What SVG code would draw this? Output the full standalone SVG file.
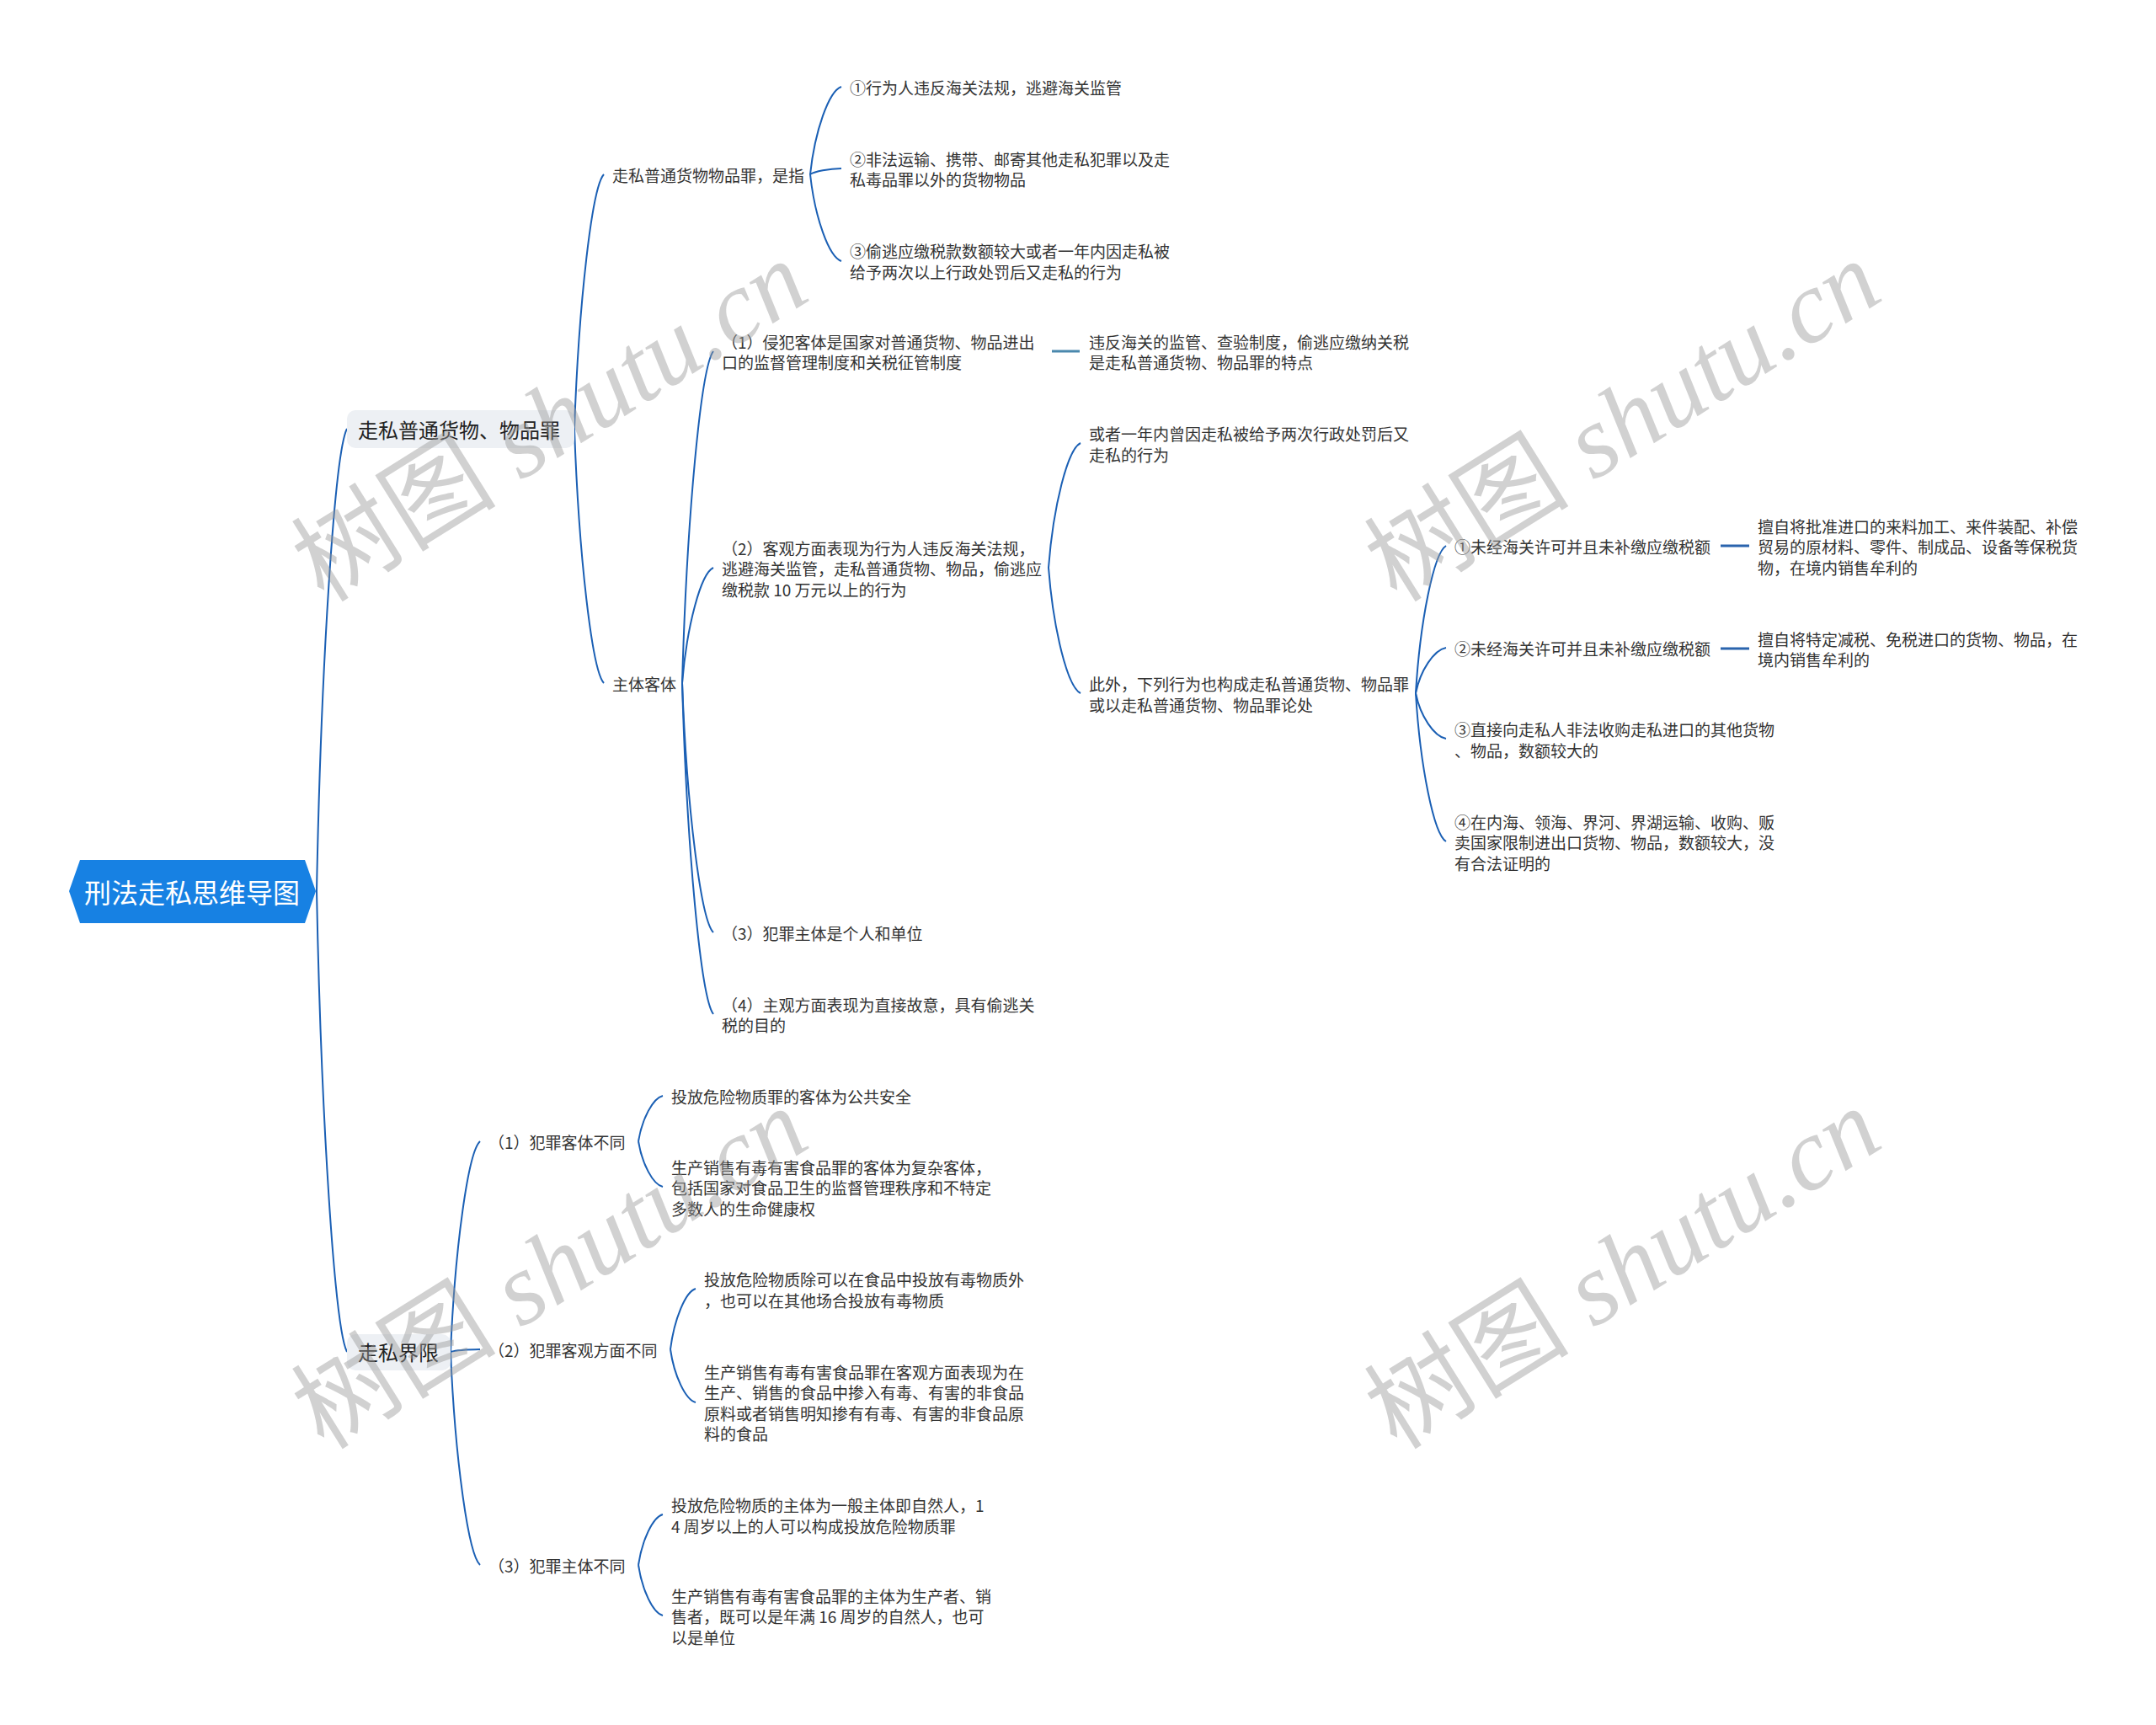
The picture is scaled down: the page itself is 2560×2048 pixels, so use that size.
<svg xmlns="http://www.w3.org/2000/svg" width="2560" height="2048" viewBox="0 0 2560 2048">
<style>
.t{font-family:"Noto Sans CJK SC","Noto Sans",sans-serif;font-size:19px;fill:#333;dominant-baseline:central}
.l1{font-family:"Noto Sans CJK SC","Noto Sans",sans-serif;font-size:24px;fill:#222;dominant-baseline:central}
.root{font-family:"Noto Sans CJK SC","Noto Sans",sans-serif;font-size:32px;fill:#fff;dominant-baseline:central;text-anchor:middle}
.c{fill:none;stroke:#1a5fb4;stroke-width:2}
.s1{fill:none;stroke:#4a88ad;stroke-width:3}
.s2{fill:none;stroke:#2a64ad;stroke-width:3}
.box{fill:#edf0f4}
.wm{font-family:"Liberation Serif","Noto Sans CJK SC",serif;font-size:122px;fill:#999;fill-opacity:0.45;text-anchor:middle;dominant-baseline:central}
</style>
<rect width="2560" height="2048" fill="#fff"/>
<g id="connectors">
<path class="c" d="M376,1058 C381.4,783.5 397.6,536.5 412,509"/>
<path class="c" d="M376,1058 C381.4,1331.5 397.6,1577.6 412,1605"/>
<path class="c" d="M682,509 C687.3,358 703,222.1 717,207"/>
<path class="c" d="M682,509 C687.3,660 703,795.9 717,811"/>
<path class="c" d="M962,207 C967.6,155 984.2,108.2 999,103"/>
<path class="c" d="M962,207 C967.6,203.5 984.2,200.4 999,200"/>
<path class="c" d="M962,207 C967.6,258.5 984.2,304.9 999,310"/>
<path class="c" d="M810,811 C815.6,614 832.2,436.7 847,417"/>
<path class="c" d="M810,811 C815.6,742.5 832.2,680.9 847,674"/>
<path class="c" d="M810,811 C815.6,959 832.2,1092.2 847,1107"/>
<path class="c" d="M810,811 C815.6,1007.5 832.2,1184.4 847,1204"/>
<path class="s1" d="M1249,417 L1282,417"/>
<path class="c" d="M1245,674 C1250.7,600 1267.8,533.4 1283,526"/>
<path class="c" d="M1245,674 C1250.7,748.5 1267.8,815.6 1283,823"/>
<path class="c" d="M1681,823 C1686.4,735.5 1702.6,656.8 1717,648"/>
<path class="c" d="M1681,823 C1686.4,796 1702.6,771.7 1717,769"/>
<path class="c" d="M1681,823 C1686.4,850 1702.6,874.3 1717,877"/>
<path class="c" d="M1681,823 C1686.4,911 1702.6,990.2 1717,999"/>
<path class="s2" d="M2043,648 L2077,648"/>
<path class="s2" d="M2043,770 L2077,770"/>
<path class="c" d="M535,1605 C540.3,1480 556,1367.5 570,1355"/>
<path class="c" d="M535,1605 C540.3,1603.5 556,1602.2 570,1602"/>
<path class="c" d="M535,1605 C540.3,1731.5 556,1845.4 570,1858"/>
<path class="c" d="M758,1355 C762.4,1328 775.4,1303.7 787,1301"/>
<path class="c" d="M758,1355 C762.4,1382 775.4,1406.3 787,1409"/>
<path class="c" d="M796,1602 C800.5,1566 814,1533.6 826,1530"/>
<path class="c" d="M796,1602 C800.5,1633.5 814,1661.9 826,1665"/>
<path class="c" d="M758,1858 C762.4,1828 775.4,1801 787,1798"/>
<path class="c" d="M758,1858 C762.4,1888 775.4,1915 787,1918"/>
</g>
<g id="root">
<polygon points="82,1058 95,1021 362,1021 375,1058 362,1096 95,1096" fill="#1781e3"/>
<text class="root" x="228" y="1058">刑法走私思维导图</text>
</g>
<g id="n-l1a">
<rect class="box" x="412" y="487" width="270" height="45" rx="10"/>
<text class="l1" x="425" y="509">走私普通货物、物品罪</text>
</g>
<g id="n-l1b">
<rect class="box" x="412" y="1584" width="123" height="43" rx="10"/>
<text class="l1" x="425" y="1604">走私界限</text>
</g>
<g id="n-a"><text class="t" x="727" y="207">走私普通货物物品罪，是指</text></g>
<g id="n-a1"><text class="t" x="1009" y="103">①行为人违反海关法规，逃避海关监管</text></g>
<g id="n-a2"><text class="t"><tspan x="1009" y="188">②非法运输、携带、邮寄其他走私犯罪以及走</tspan><tspan x="1009" y="212">私毒品罪以外的货物物品</tspan></text></g>
<g id="n-a3"><text class="t"><tspan x="1009" y="297">③偷逃应缴税款数额较大或者一年内因走私被</tspan><tspan x="1009" y="322">给予两次以上行政处罚后又走私的行为</tspan></text></g>
<g id="n-b"><text class="t" x="727" y="811">主体客体</text></g>
<g id="n-b1"><text class="t"><tspan x="857" y="405">（1）侵犯客体是国家对普通货物、物品进出</tspan><tspan x="857" y="429">口的监督管理制度和关税征管制度</tspan></text></g>
<g id="n-b1a"><text class="t"><tspan x="1293" y="405">违反海关的监管、查验制度，偷逃应缴纳关税</tspan><tspan x="1293" y="429">是走私普通货物、物品罪的特点</tspan></text></g>
<g id="n-b2"><text class="t"><tspan x="857" y="650">（2）客观方面表现为行为人违反海关法规，</tspan><tspan x="857" y="674">逃避海关监管，走私普通货物、物品，偷逃应</tspan><tspan x="857" y="699">缴税款 10 万元以上的行为</tspan></text></g>
<g id="n-b2a"><text class="t"><tspan x="1293" y="514">或者一年内曾因走私被给予两次行政处罚后又</tspan><tspan x="1293" y="539">走私的行为</tspan></text></g>
<g id="n-b2b"><text class="t"><tspan x="1293" y="811">此外，下列行为也构成走私普通货物、物品罪</tspan><tspan x="1293" y="836">或以走私普通货物、物品罪论处</tspan></text></g>
<g id="n-c1"><text class="t" x="1727" y="648">①未经海关许可并且未补缴应缴税额</text></g>
<g id="n-c1a"><text class="t"><tspan x="2087" y="624">擅自将批准进口的来料加工、来件装配、补偿</tspan><tspan x="2087" y="648">贸易的原材料、零件、制成品、设备等保税货</tspan><tspan x="2087" y="673">物，在境内销售牟利的</tspan></text></g>
<g id="n-c2"><text class="t" x="1727" y="769">②未经海关许可并且未补缴应缴税额</text></g>
<g id="n-c2a"><text class="t"><tspan x="2087" y="758">擅自将特定减税、免税进口的货物、物品，在</tspan><tspan x="2087" y="782">境内销售牟利的</tspan></text></g>
<g id="n-c3"><text class="t"><tspan x="1727" y="865">③直接向走私人非法收购走私进口的其他货物</tspan><tspan x="1727" y="890">、物品，数额较大的</tspan></text></g>
<g id="n-c4"><text class="t"><tspan x="1727" y="975">④在内海、领海、界河、界湖运输、收购、贩</tspan><tspan x="1727" y="999">卖国家限制进出口货物、物品，数额较大，没</tspan><tspan x="1727" y="1024">有合法证明的</tspan></text></g>
<g id="n-b3"><text class="t" x="857" y="1107">（3）犯罪主体是个人和单位</text></g>
<g id="n-b4"><text class="t"><tspan x="857" y="1192">（4）主观方面表现为直接故意，具有偷逃关</tspan><tspan x="857" y="1216">税的目的</tspan></text></g>
<g id="n-d1"><text class="t" x="580" y="1355">（1）犯罪客体不同</text></g>
<g id="n-d1a"><text class="t" x="797" y="1301">投放危险物质罪的客体为公共安全</text></g>
<g id="n-d1b"><text class="t"><tspan x="797" y="1385">生产销售有毒有害食品罪的客体为复杂客体，</tspan><tspan x="797" y="1409">包括国家对食品卫生的监督管理秩序和不特定</tspan><tspan x="797" y="1434">多数人的生命健康权</tspan></text></g>
<g id="n-d2"><text class="t" x="580" y="1602">（2）犯罪客观方面不同</text></g>
<g id="n-d2a"><text class="t"><tspan x="836" y="1518">投放危险物质除可以在食品中投放有毒物质外</tspan><tspan x="836" y="1543">，也可以在其他场合投放有毒物质</tspan></text></g>
<g id="n-d2b"><text class="t"><tspan x="836" y="1628">生产销售有毒有害食品罪在客观方面表现为在</tspan><tspan x="836" y="1652">生产、销售的食品中掺入有毒、有害的非食品</tspan><tspan x="836" y="1677">原料或者销售明知掺有有毒、有害的非食品原</tspan><tspan x="836" y="1701">料的食品</tspan></text></g>
<g id="n-d3"><text class="t" x="580" y="1858">（3）犯罪主体不同</text></g>
<g id="n-d3a"><text class="t"><tspan x="797" y="1786">投放危险物质的主体为一般主体即自然人，1</tspan><tspan x="797" y="1811">4 周岁以上的人可以构成投放危险物质罪</tspan></text></g>
<g id="n-d3b"><text class="t"><tspan x="797" y="1894">生产销售有毒有害食品罪的主体为生产者、销</tspan><tspan x="797" y="1918">售者，既可以是年满 16 周岁的自然人，也可</tspan><tspan x="797" y="1943">以是单位</tspan></text></g>
<g id="watermark">
<text class="wm" transform="translate(653,500) rotate(-32)">树图 <tspan font-style="italic">shutu.cn</tspan></text>
<text class="wm" transform="translate(1927,500) rotate(-32)">树图 <tspan font-style="italic">shutu.cn</tspan></text>
<text class="wm" transform="translate(653,1506) rotate(-32)">树图 <tspan font-style="italic">shutu.cn</tspan></text>
<text class="wm" transform="translate(1927,1506) rotate(-32)">树图 <tspan font-style="italic">shutu.cn</tspan></text>
</g>
</svg>
